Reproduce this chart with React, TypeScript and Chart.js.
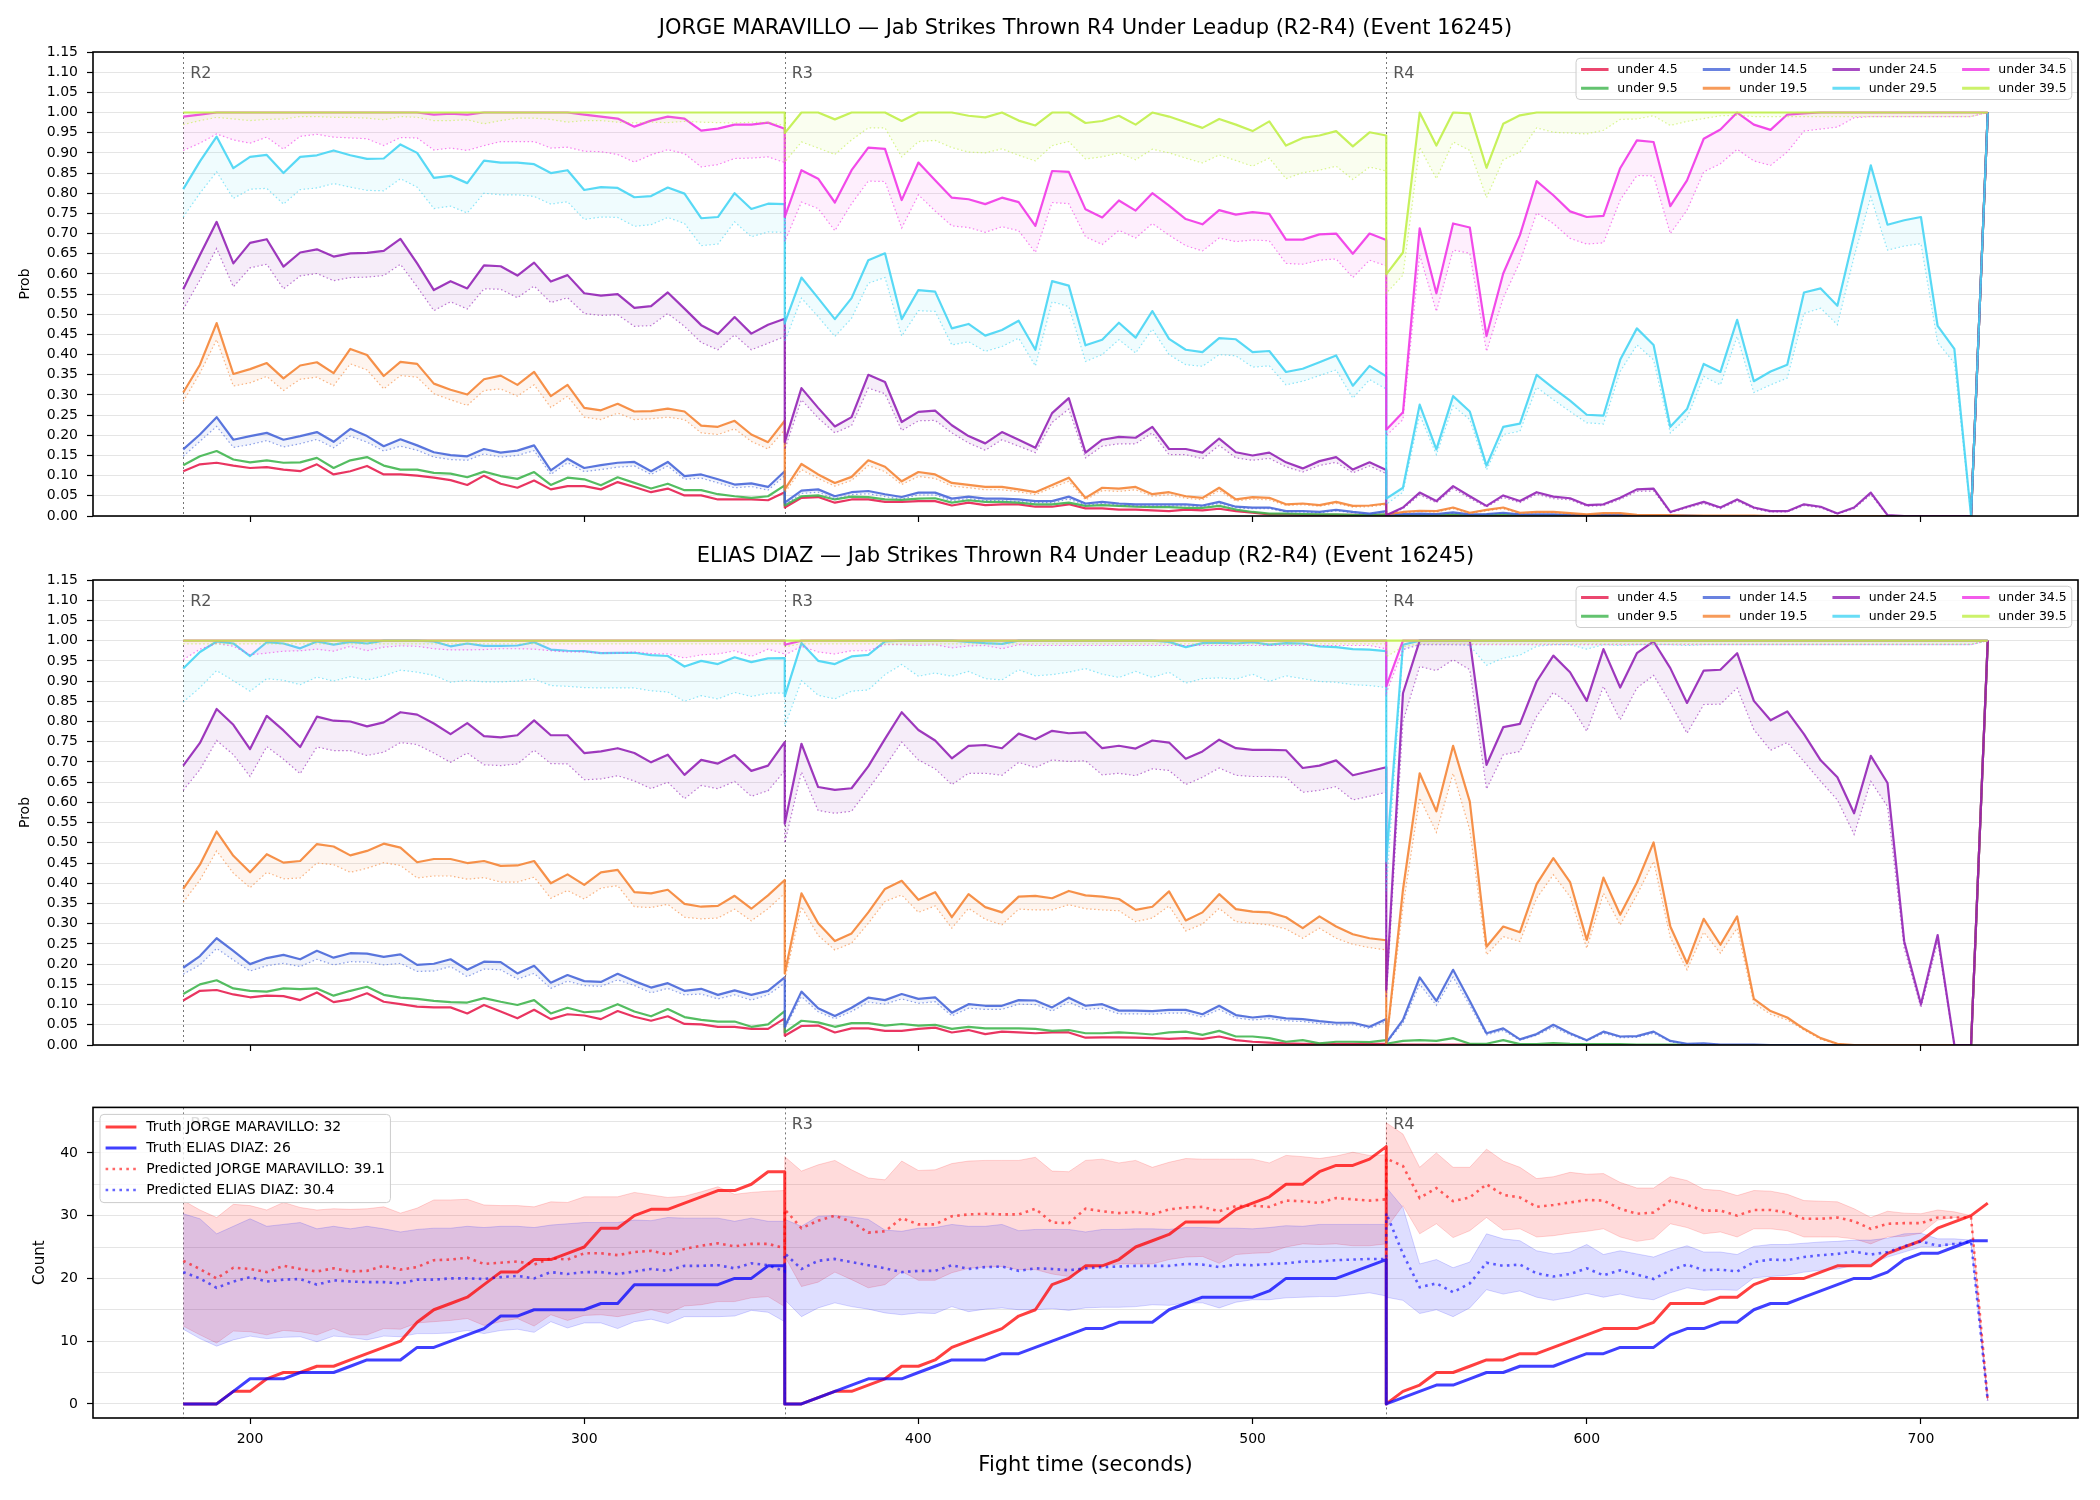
import React, { useEffect, useRef } from 'react';
import { Chart, registerables } from 'chart.js';

Chart.register(...registerables);

const FONT = '"DejaVu Sans", "Liberation Sans", sans-serif';

// ---------------- time axis ----------------
const ROUND_STARTS = [180, 360, 540];
const ROUND_NAMES = ['R2', 'R3', 'R4'];
const SAMPLE_STEP = 5; // seconds between samples
const SAMPLES_PER_ROUND = 37; // round start .. round end inclusive
const TIME_MIN = 153;
const TIME_MAX = 747;
const TIME_TICKS = [200, 300, 400, 500, 600, 700];

const PROB_TICKS = [0, 0.05, 0.1, 0.15, 0.2, 0.25, 0.3, 0.35, 0.4, 0.45, 0.5, 0.55, 0.6, 0.65, 0.7, 0.75, 0.8, 0.85, 0.9, 0.95, 1.0, 1.05, 1.1, 1.15];
const COUNT_TICKS = [0, 5, 10, 15, 20, 25, 30, 35, 40, 45];
const COUNT_TICK_LABELS = [0, 10, 20, 30, 40];

const TITLE_MARAVILLO = 'JORGE MARAVILLO — Jab Strikes Thrown R4 Under Leadup (R2-R4) (Event 16245)';
const TITLE_DIAZ = 'ELIAS DIAZ — Jab Strikes Thrown R4 Under Leadup (R2-R4) (Event 16245)';

const THRESHOLD_LABELS = ['under 4.5', 'under 9.5', 'under 14.5', 'under 19.5', 'under 24.5', 'under 29.5', 'under 34.5', 'under 39.5'];
const THRESHOLD_COLORS = ['#e6194b', '#3cb44b', '#4363d8', '#f58231', '#911eb4', '#42d4f4', '#f032e6', '#bfef45'];

// ---------------- JORGE MARAVILLO, probability (%) per sample: R2 | R3 | R4 ----------------
const mU4 = [
  11.1, 12.8, 13.2, 12.5, 11.9, 12.1, 11.5, 11.1, 12.8, 10.3, 11.1, 12.4, 10.3, 10.3, 10, 9.5, 8.9, 7.7, 10, 8, 7, 8.8, 6.6, 7.4, 7.4, 6.6, 8.4, 7.2, 5.9, 6.8, 5.1, 5.1, 4.1, 4.1, 4.1, 3.9, 5.9,
  2.1, 4.5, 4.7, 3.3, 4.1, 4.1, 3.5, 3.5, 3.7, 3.7, 2.6, 3.3, 2.7, 2.9, 2.9, 2.3, 2.3, 2.9, 1.9, 1.9, 1.6, 1.6, 1.4, 1.2, 1.6, 1.4, 1.8, 1.2, 0.8, 0.4, 0.4, 0.3, 0.3, 0.3, 0.3, 0.3, 0.3,
  0.1, 0.1, 0.1, 0.1, 0.2, 0.1, 0.1, 0.1, 0.1, 0.1, 0, 0, 0, 0, 0, 0, 0, 0, 0, 0, 0, 0, 0, 0, 0, 0, 0, 0, 0, 0, 0, 0, 0, 0, 0, 0, 100,
];
const mU9 = [
  12.6, 14.8, 16.1, 14, 13.3, 13.8, 13.2, 13.3, 14.4, 11.9, 13.8, 14.6, 12.5, 11.5, 11.5, 10.7, 10.5, 9.6, 11, 9.9, 9.2, 10.9, 7.7, 9.5, 9.1, 7.6, 9.6, 8.2, 6.8, 8, 6.4, 6.4, 5.4, 4.9, 4.5, 4.9, 7.6,
  2.6, 4.9, 5.1, 4.1, 4.8, 4.7, 4.1, 4, 4.3, 4.4, 3.3, 3.9, 3.5, 3.5, 3.3, 2.9, 2.9, 3.3, 2.5, 2.7, 2.5, 2.3, 2.2, 2.2, 2, 2, 2.5, 1.6, 1, 0.6, 0.6, 0.5, 0.4, 0.4, 0.3, 0.3, 0.4,
  0.1, 0.2, 0.3, 0.3, 0.4, 0.2, 0.3, 0.4, 0.2, 0.2, 0.2, 0.1, 0.1, 0.1, 0.1, 0, 0, 0, 0, 0, 0, 0, 0, 0, 0, 0, 0, 0, 0, 0, 0, 0, 0, 0, 0, 0, 100,
];
const mU14 = [
  16.5, 20.2, 24.5, 18.9, 19.8, 20.6, 18.9, 19.8, 20.8, 18.4, 21.6, 19.8, 17.3, 19, 17.5, 15.8, 15.1, 14.8, 16.6, 15.7, 16.2, 17.5, 11.3, 14.2, 11.9, 12.6, 13.2, 13.4, 11.1, 13.4, 9.9, 10.3, 9.1, 7.8, 8.1, 7.2, 11.1,
  3.3, 6.3, 6.6, 4.9, 5.9, 6.2, 5.4, 4.7, 5.8, 5.8, 4.3, 4.8, 4.3, 4.3, 4.1, 3.7, 3.7, 4.8, 3.1, 3.5, 3.1, 2.9, 2.9, 2.9, 2.9, 2.6, 3.5, 2.3, 2.1, 2.1, 1.2, 1.2, 1, 1.5, 1, 0.6, 1.2,
  0.3, 0.5, 0.6, 0.5, 0.9, 0.4, 0.5, 0.8, 0.4, 0.4, 0.4, 0.3, 0.2, 0.3, 0.3, 0.1, 0.1, 0.1, 0.1, 0, 0, 0, 0, 0, 0, 0, 0, 0, 0, 0, 0, 0, 0, 0, 0, 0, 100,
];
const mU14Lo = [
  14.8, 18.5, 22.2, 17, 17.7, 18.7, 17.1, 17.9, 19, 16.9, 19.8, 18.3, 16.1, 17.3, 16.3, 14.6, 14, 13.8, 15.4, 14.6, 15, 16.2, 10.3, 13.2, 11, 11.5, 12.1, 12.4, 10.3, 12.4, 9.1, 9.4, 8.2, 7, 7.3, 6.4, 10,
  2.8, 5.6, 5.9, 4.3, 5.3, 5.5, 4.8, 4.2, 5.2, 5.2, 3.8, 4.3, 3.8, 3.8, 3.6, 3.3, 3.3, 4.2, 2.7, 3.1, 2.7, 2.5, 2.5, 2.5, 2.5, 2.3, 3.1, 2, 1.8, 1.8, 1, 1, 0.8, 1.3, 0.8, 0.5, 1,
  0.2, 0.4, 0.5, 0.4, 0.7, 0.3, 0.4, 0.6, 0.3, 0.3, 0.3, 0.2, 0.1, 0.2, 0.2, 0.1, 0.1, 0.1, 0.1, 0, 0, 0, 0, 0, 0, 0, 0, 0, 0, 0, 0, 0, 0, 0, 0, 0, 100,
];
const mU19 = [
  30.6, 37.5, 47.8, 35.2, 36.4, 37.9, 34.1, 37.3, 38.1, 35.4, 41.4, 39.9, 34.7, 38.2, 37.7, 32.8, 31.3, 30.1, 33.9, 34.8, 32.5, 35.7, 29.7, 32.5, 26.8, 26.2, 27.8, 25.9, 26, 26.6, 25.9, 22.4, 22.1, 23.6, 20.2, 18.3, 23.6,
  6.6, 12.9, 10.3, 8.2, 9.7, 13.8, 12.2, 8.6, 10.9, 10.3, 8.2, 7.7, 7.2, 7.2, 6.6, 5.9, 7.7, 9.5, 4.5, 7, 6.8, 7.2, 5.4, 5.9, 4.9, 4.5, 7, 4.1, 4.7, 4.5, 2.9, 3.1, 2.7, 3.5, 2.5, 2.6, 3.1,
  0.4, 1, 1.3, 1.2, 2.1, 0.8, 1.5, 2.1, 0.8, 1, 1, 0.7, 0.4, 0.7, 0.7, 0.3, 0.2, 0.2, 0.1, 0.1, 0.1, 0.1, 0.1, 0, 0, 0, 0, 0, 0, 0, 0, 0, 0, 0, 0, 0, 100,
];
const mU19Lo = [
  28.4, 35.4, 43.7, 32.2, 33, 34.6, 31.1, 33.9, 34.4, 32.3, 37.7, 36.2, 31.5, 34.8, 34.4, 30.3, 28.8, 27.4, 31.1, 31.5, 29.7, 32.5, 26.9, 29.7, 24.5, 23.9, 25.5, 23.9, 24.1, 24.5, 23.9, 20.6, 20.2, 21.6, 18.5, 16.6, 21.4,
  5.8, 11.5, 9.3, 7.4, 8.8, 12.5, 11, 7.8, 9.8, 9.3, 7.4, 7, 6.5, 6.5, 6, 5.3, 7, 8.6, 4, 6.3, 6.1, 6.5, 4.9, 5.3, 4.4, 4, 6.3, 3.7, 4.2, 4, 2.6, 2.8, 2.4, 3.1, 2.2, 2.3, 2.8,
  0.3, 0.8, 1.1, 1, 1.8, 0.6, 1.3, 1.8, 0.6, 0.8, 0.8, 0.5, 0.3, 0.5, 0.5, 0.2, 0.1, 0.1, 0.1, 0.1, 0.1, 0.1, 0.1, 0, 0, 0, 0, 0, 0, 0, 0, 0, 0, 0, 0, 0, 100,
];
const mU24 = [
  56.2, 64.7, 72.9, 62.6, 67.7, 68.6, 61.8, 65.3, 66.1, 64.3, 65.1, 65.2, 65.7, 68.7, 62.6, 56, 58.2, 56.4, 62.1, 61.9, 59.6, 62.8, 58.1, 59.7, 55.2, 54.6, 55, 51.6, 52, 55.4, 51.4, 47.3, 45.1, 49.3, 45.2, 47.4, 48.9,
  18.3, 31.7, 26.8, 22.2, 24.5, 35, 33.2, 23.3, 25.8, 26.1, 22.5, 19.8, 18, 20.8, 18.9, 16.9, 25.5, 29.2, 15.7, 18.9, 19.6, 19.4, 22.1, 16.6, 16.6, 15.7, 19.2, 15.8, 15, 15.7, 13.3, 11.8, 13.6, 14.6, 11.5, 13.3, 11.4,
  0.2, 2.1, 5.8, 3.7, 7.4, 4.9, 2.5, 5.1, 3.7, 5.9, 4.8, 4.4, 2.7, 2.9, 4.5, 6.6, 6.8, 1, 2.3, 3.5, 2.1, 4.1, 2.1, 1.2, 1.2, 2.9, 2.3, 0.6, 2.1, 5.8, 0.2, 0, 0, 0, 0, 0, 100,
];
const mU24Lo = [
  51.2, 58.5, 66.3, 56.8, 61.5, 62.4, 56.3, 59.5, 60.1, 58.3, 59.1, 59.2, 59.6, 62.4, 56.8, 50.9, 53.1, 51.3, 56.3, 56.2, 54.1, 57, 52.9, 54.1, 50.2, 49.7, 49.9, 47, 47.2, 50.2, 47, 43, 41.2, 44.9, 41.2, 42.8, 44.5,
  16.5, 28.8, 24.3, 20.6, 22.4, 31.7, 30.3, 21.2, 23.6, 23.7, 20.6, 18.1, 16.3, 18.9, 17.3, 15.7, 23.2, 26.5, 14.4, 17.3, 17.9, 17.9, 20.6, 15.2, 15.2, 14.2, 17.5, 14.4, 13.8, 14.3, 12.2, 10.9, 12.5, 13.3, 10.7, 12.4, 10.5,
  0.1, 1.8, 5.2, 3.3, 6.8, 4.4, 2.2, 4.6, 3.3, 5.4, 4.3, 4, 2.4, 2.6, 4.1, 6.1, 6.2, 0.8, 2, 3.1, 1.8, 3.7, 1.8, 1, 1, 2.6, 2, 0.5, 1.8, 5.3, 0.1, 0, 0, 0, 0, 0, 100,
];
const mU29 = [
  81, 87.9, 94, 86.2, 89, 89.5, 85, 89, 89.4, 90.6, 89.4, 88.5, 88.6, 92.1, 90, 83.8, 84.3, 82.5, 88.1, 87.6, 87.6, 87.2, 85, 85.7, 80.8, 81.5, 81.3, 79, 79.3, 81.4, 79.9, 73.8, 74.1, 80, 76.1, 77.4, 77.3,
  47.8, 59.1, 54, 48.8, 54, 63.4, 65.1, 48.8, 56, 55.6, 46.5, 47.6, 44.7, 46.1, 48.4, 41.2, 58.2, 57.1, 42.3, 43.7, 47.9, 44.2, 50.8, 43.9, 41.2, 40.6, 44.1, 43.8, 40.6, 40.9, 35.7, 36.5, 38.1, 39.8, 32.3, 37.2, 34.6,
  4.3, 7, 27.6, 16.5, 29.7, 25.9, 12.5, 22.1, 22.9, 35, 31.7, 28.6, 25.1, 24.9, 38.7, 46.5, 42.4, 22.1, 26.5, 37.7, 35.7, 48.6, 33.4, 35.8, 37.5, 55.4, 56.4, 52.1, 69.6, 86.9, 72.2, 73.3, 74.1, 47.1, 41.4, 0, 100,
];
const mU29Lo = [
  74.1, 80, 85.3, 78.7, 81, 81.2, 77.3, 80.9, 81.3, 82.4, 81.5, 80.7, 80.6, 83.6, 81.5, 76.2, 76.8, 75.1, 80, 79.6, 79.6, 79.2, 77.3, 77.9, 73.5, 74.1, 74, 71.8, 72.2, 74, 72.5, 67, 67.4, 72.9, 69.2, 70.4, 70.3,
  43.2, 54, 49.4, 44.5, 49, 57.7, 59.1, 44.6, 50.9, 50.7, 42.4, 43.2, 40.8, 42, 44.1, 37.2, 53.1, 51.9, 38.3, 40, 43.7, 40.4, 46.3, 40, 37.5, 37.1, 40, 39.7, 36.9, 37.2, 32.5, 33.4, 34.8, 36.2, 29.2, 33.8, 31.5,
  2.9, 5.9, 25.1, 15.2, 27.3, 23.9, 11.4, 20.2, 21, 31.9, 28.8, 25.9, 23.1, 22.8, 35.8, 42.4, 38.7, 20.6, 24.3, 34.6, 32.5, 44.5, 30.6, 32.5, 34.2, 50.2, 51.5, 47.4, 64.3, 79.1, 65.9, 66.9, 67.5, 43, 37.9, 0, 100,
];
const mU34 = [
  99, 99.5, 100, 100, 100, 100, 100, 100, 100, 100, 100, 100, 100, 100, 100, 99.5, 99.7, 99.5, 100, 100, 100, 100, 100, 100, 99.5, 99, 98.5, 96.5, 98, 99, 98.5, 95.5, 96, 97, 97, 97.5, 96,
  74.1, 85.7, 83.6, 77.7, 85.7, 91.3, 91, 78.3, 87.6, 83.2, 78.9, 78.5, 77.3, 78.9, 77.8, 71.9, 85.5, 85.3, 76, 74, 78.2, 75.7, 80, 76.9, 73.6, 72.3, 75.8, 74.7, 75.3, 74.9, 68.5, 68.5, 69.8, 70, 65, 70, 68.4,
  21.4, 25.7, 71.3, 55.2, 72.5, 71.5, 44.6, 60.1, 69.6, 83, 79.5, 75.5, 74.1, 74.4, 86.2, 93.1, 92.7, 76.8, 83.2, 93.5, 95.8, 100, 97, 95.7, 99.5, 99.8, 100, 100, 100, 100, 100, 100, 100, 100, 100, 100, 100,
];
const mU34Lo = [
  90.6, 92.4, 94.7, 93.2, 92.4, 93.9, 90.9, 94.1, 94.6, 93.9, 93.7, 93.5, 91.8, 93.8, 93.7, 90.7, 91.2, 90.6, 91.8, 92.8, 92.8, 92.8, 91.2, 91.4, 90.4, 90.3, 89.6, 87.7, 89.5, 90.8, 89.8, 86.5, 87.1, 88.6, 88.7, 89, 87.6,
  68, 77.8, 76.2, 70.7, 77.4, 83, 82.9, 71.4, 79.6, 75.6, 71.9, 71.5, 70.3, 71.7, 70.7, 65.3, 77.7, 77.4, 69.2, 67.3, 70.8, 68.9, 72.5, 69.6, 67, 65.7, 68.9, 68, 68.4, 68.2, 62.6, 62.4, 63.4, 63.7, 59.1, 63.4, 62,
  19.9, 23.9, 64.7, 50.7, 65.9, 65.1, 40.8, 54, 63, 75.1, 72.5, 68.8, 67.4, 67.7, 78.3, 84.4, 84.3, 70, 75.8, 85.3, 87.3, 90.9, 88, 86.9, 90.2, 95.4, 95.9, 96.4, 98.7, 99, 99, 99, 99, 99, 99, 99, 100,
];
const mU39 = [
  100, 100, 100, 100, 100, 100, 100, 100, 100, 100, 100, 100, 100, 100, 100, 100, 100, 100, 100, 100, 100, 100, 100, 100, 100, 100, 100, 100, 100, 100, 100, 100, 100, 100, 100, 100, 100,
  94.9, 100, 100, 98.3, 100, 100, 100, 97.9, 100, 100, 100, 99.2, 98.8, 100, 98, 96.8, 100, 100, 97.4, 97.9, 99.2, 97, 100, 99, 97.6, 96.2, 98.4, 97, 95.4, 97.8, 91.8, 93.7, 94.3, 95.4, 91.6, 95.1, 94.3,
  59.9, 65.3, 100, 91.8, 100, 99.8, 86.3, 97.2, 99.3, 100, 100, 100, 100, 100, 100, 100, 100, 100, 100, 100, 100, 100, 100, 100, 100, 100, 100, 100, 100, 100, 100, 100, 100, 100, 100, 100, 100,
];
const mU39Lo = [
  97, 98, 98.8, 98.4, 98, 98.3, 98.4, 99, 99, 98.8, 98.8, 98.6, 98.2, 99, 98.8, 98, 98, 98.2, 97.2, 98, 98.6, 98.6, 98.3, 97.6, 98, 98, 97.6, 97.4, 97.6, 97.5, 97.8, 97.6, 97.5, 97.4, 97.6, 97.5, 96.8,
  87.7, 92.7, 91.2, 89.6, 93.2, 96.2, 96.2, 89, 92.8, 93.1, 91.3, 90.2, 90, 91, 89.4, 88, 91.8, 92.8, 88.5, 89, 90, 88.3, 90.9, 90, 88.7, 87.5, 89.5, 88.1, 86.7, 88.7, 83.6, 85.1, 85.7, 86.7, 83.4, 86.5, 85.5,
  55.2, 59.7, 91.4, 83.6, 92.7, 90.6, 78.9, 88.3, 90.2, 96.2, 95.1, 94.9, 94.7, 95.6, 98.3, 98.4, 99.2, 96.8, 97.8, 98.5, 99.2, 99.3, 99, 99, 99, 99, 99, 99, 99, 99, 99, 99, 99, 99, 99, 99, 100,
];

// ---------------- ELIAS DIAZ, probability (%) per sample: R2 | R3 | R4 ----------------
const dU4 = [
  11, 13.4, 13.6, 12.5, 11.8, 12.2, 12.1, 11.1, 13, 10.6, 11.3, 12.8, 10.7, 10.1, 9.5, 9.3, 9.3, 7.8, 9.9, 8.3, 6.6, 8.7, 6.4, 7.6, 7.3, 6.4, 8.4, 7, 6, 7.1, 5.2, 5.1, 4.5, 4.5, 4, 4, 6.6,
  2.3, 4.7, 4.8, 3.1, 4.1, 4.1, 3.5, 3.5, 4, 4.3, 3.1, 3.7, 2.7, 3.3, 3.1, 2.9, 3.1, 3.1, 1.8, 1.9, 1.9, 1.8, 1.7, 1.5, 1.7, 1.5, 2.1, 1.2, 0.8, 0.6, 0.4, 0.3, 0.3, 0.3, 0.3, 0.3, 0.3,
  0.1, 0.1, 0.1, 0.1, 0.1, 0.1, 0, 0, 0, 0, 0, 0, 0, 0, 0, 0, 0, 0, 0, 0, 0, 0, 0, 0, 0, 0, 0, 0, 0, 0, 0, 0, 0, 0, 0, 0, 100,
];
const dU9 = [
  12.6, 15, 16, 14, 13.4, 13.2, 14, 13.8, 14, 12.2, 13.4, 14.4, 12.4, 11.7, 11.4, 10.9, 10.6, 10.5, 11.6, 10.7, 9.9, 11.1, 7.8, 9.2, 8.1, 8.4, 10.1, 8.3, 7.1, 8.9, 6.9, 6.2, 5.8, 5.8, 4.5, 5.1, 8.4,
  3.1, 6, 5.6, 4.5, 5.4, 5.4, 4.8, 5.2, 4.8, 5, 4, 4.5, 4.1, 4.1, 4.1, 4, 3.5, 3.7, 2.9, 2.9, 3.1, 2.9, 2.6, 3.1, 3.3, 2.5, 3.5, 2.1, 2.1, 1.7, 0.8, 1.2, 0.4, 0.8, 0.8, 0.7, 1.2,
  0.3, 1, 1.2, 1, 1.7, 0.3, 0.3, 1.2, 0.2, 0.2, 0.5, 0.3, 0.2, 0.2, 0.2, 0.1, 0.1, 0.1, 0.1, 0, 0, 0, 0, 0, 0, 0, 0, 0, 0, 0, 0, 0, 0, 0, 0, 0, 100,
];
const dU14 = [
  19.1, 22, 26.4, 23.3, 20, 21.5, 22.3, 21.2, 23.3, 21.6, 22.7, 22.6, 21.8, 22.4, 19.8, 20.1, 21.2, 18.6, 20.6, 20.5, 17.7, 19.6, 15.4, 17.3, 15.8, 15.6, 17.6, 15.8, 14.2, 15.3, 13.4, 13.9, 12.4, 13.5, 12.4, 13.4, 16.7,
  4.5, 13.2, 9.1, 7.2, 9.2, 11.7, 11.1, 12.6, 11.4, 11.8, 8, 10.1, 9.7, 9.7, 11.1, 11, 9.3, 11.7, 9.7, 10.1, 8.5, 8.5, 8.4, 8.7, 8.7, 7.6, 9.7, 7.4, 6.8, 7.2, 6.6, 6.4, 5.9, 5.5, 5.5, 4.5, 6.4,
  0.6, 6.2, 16.7, 10.9, 18.6, 10.9, 2.9, 4.1, 1.4, 2.7, 5, 2.9, 1.2, 3.3, 2.1, 2.2, 3.3, 1, 0.3, 0.4, 0.1, 0.1, 0.1, 0, 0, 0, 0, 0, 0, 0, 0, 0, 0, 0, 0, 0, 100,
];
const dU14Lo = [
  17.5, 19.8, 23.9, 21, 18.3, 19.6, 20.2, 19.4, 21.2, 19.8, 20.6, 20.5, 19.8, 20.2, 18.2, 18.3, 19.4, 16.9, 18.8, 18.6, 16.3, 17.7, 14, 15.8, 14.7, 14.5, 16.1, 14.7, 12.9, 14, 12.4, 12.6, 11.4, 12.4, 11.1, 12.4, 15.3,
  4, 12, 8.2, 6.5, 8.3, 10.6, 10.1, 11.4, 10.3, 10.7, 7.2, 9.1, 8.8, 8.8, 10.1, 10, 8.4, 10.6, 8.8, 9.1, 7.7, 7.7, 7.6, 7.9, 7.9, 6.9, 8.8, 6.7, 6.2, 6.5, 6, 5.8, 5.3, 5, 5, 4.1, 5.8,
  0.5, 5.4, 15, 9.8, 16.8, 9.8, 2.5, 3.6, 1.2, 2.4, 4.4, 2.5, 1, 2.9, 1.8, 1.9, 2.9, 0.8, 0.2, 0.3, 0.1, 0.1, 0.1, 0, 0, 0, 0, 0, 0, 0, 0, 0, 0, 0, 0, 0, 100,
];
const dU19 = [
  38.6, 44.6, 52.8, 46.8, 42.7, 47.2, 45.1, 45.5, 49.7, 49.1, 46.9, 48, 49.8, 48.8, 45.2, 46, 46, 45, 45.5, 44.3, 44.4, 45.5, 40, 42.2, 39.6, 42.7, 43.3, 37.8, 37.5, 38.4, 34.9, 34.2, 34.4, 36.9, 33.7, 37, 40.8,
  17.7, 37.5, 30.1, 25.7, 27.6, 32.8, 38.6, 40.6, 35.9, 37.8, 31.6, 37.3, 34.1, 32.8, 36.7, 36.9, 36.3, 38.1, 37, 36.7, 36.1, 33.4, 34.2, 38, 30.8, 32.8, 37.3, 33.6, 33, 32.8, 31.6, 28.9, 31.8, 29.3, 27.4, 26.4, 25.9,
  0.3, 38.4, 67.2, 57.8, 74, 60.2, 24.3, 29.3, 27.9, 39.8, 46.2, 40.3, 26, 41.4, 32.2, 40.2, 50.1, 29.3, 20.2, 31.2, 24.8, 31.8, 11.4, 8.4, 6.8, 4, 1.7, 0.3, 0, 0, 0, 0, 0, 0, 0, 0, 100,
];
const dU19Lo = [
  35.3, 40.8, 48, 42.5, 38.9, 42.7, 41.1, 41.3, 45, 44.6, 42.7, 43.7, 45.1, 44.4, 41.3, 41.8, 41.8, 41, 41.4, 40.3, 40.3, 41.5, 36.3, 38.2, 36.1, 38.8, 39.4, 34.2, 34, 34.8, 31.6, 31.2, 31.4, 33.6, 30.7, 33.7, 37.5,
  16.1, 34.2, 27.1, 23.5, 25.2, 30.1, 35.5, 37.1, 32.8, 34.4, 28.9, 33.8, 31.1, 29.7, 33.6, 33.4, 33.4, 34.7, 33.7, 33.4, 33.2, 30.5, 31.4, 34.4, 28.2, 29.9, 33.8, 30.5, 30.1, 29.7, 28.7, 26.4, 28.9, 26.4, 24.9, 24.1, 23.5,
  0.2, 34.2, 61.1, 52.6, 67.2, 53.2, 22.3, 26.8, 25.6, 36.3, 42.1, 36.7, 23.9, 37.5, 29.7, 37.1, 45.4, 26.6, 18.6, 27.9, 22.7, 28.9, 10.3, 7.6, 6.2, 3.7, 1.4, 0.2, 0, 0, 0, 0, 0, 0, 0, 0, 100,
];
const dU24 = [
  69.1, 74.7, 83.1, 79.2, 73.2, 81.4, 77.8, 73.7, 81.2, 80.2, 80, 78.8, 79.8, 82.3, 81.7, 79.5, 76.9, 79.6, 76.4, 76.1, 76.6, 80.3, 76.6, 76.6, 72.2, 72.6, 73.4, 72.2, 69.9, 71.8, 66.8, 70.5, 69.6, 71.7, 67.8, 69.1, 74.9,
  54.7, 74.5, 63.8, 63.1, 63.5, 68.9, 75.7, 82.3, 77.9, 75.3, 70.9, 74, 74.2, 73.4, 77, 75.6, 77.7, 77.1, 77.3, 73.4, 74, 73.3, 75.3, 74.8, 70.8, 72.6, 75.5, 73.4, 73, 73, 72.9, 68.5, 69.1, 70.4, 66.7, 67.7, 68.7,
  13.6, 87, 100, 100, 100, 100, 69.3, 78.6, 79.4, 89.9, 96.3, 92.2, 85.1, 97.9, 88.4, 96.9, 99.8, 93.2, 84.6, 92.6, 92.8, 96.9, 85.1, 80.3, 82.5, 76.9, 70.4, 66.2, 57.3, 71.5, 64.8, 25.6, 10.1, 27.2, 0, 0, 100,
];
const dU24Lo = [
  63, 68.1, 75.3, 71.8, 66.4, 73.8, 70.7, 67.1, 73.7, 72.8, 72.8, 71.6, 72.4, 74.8, 74.3, 72.2, 69.9, 72.2, 69.3, 69.1, 69.5, 72.9, 69.6, 69.5, 65.6, 65.8, 66.6, 65.3, 63.4, 65, 60.9, 64.2, 63.4, 65.2, 61.5, 62.9, 67.8,
  49.9, 67.5, 58, 57.3, 57.8, 63.3, 68.9, 74.9, 70.5, 68.3, 64.4, 67.2, 67.2, 66.7, 69.9, 68.6, 70.5, 70.1, 70.3, 66.8, 67.2, 66.6, 68.3, 67.9, 64.4, 66.2, 68.5, 66.7, 66.4, 66.4, 66.2, 62.5, 63, 63.9, 60.6, 61.5, 62.5,
  11.6, 80, 93.6, 92.6, 95.3, 92.8, 63.3, 71.8, 72.6, 81.3, 87.2, 84.2, 77.6, 88.7, 80.4, 88.3, 91.4, 84.6, 77.1, 84.2, 84.3, 88.3, 78, 72.9, 74.8, 70.1, 65.2, 60.6, 52.1, 65.2, 59, 23.9, 9.2, 25.6, 0, 0, 100,
];
const dU29 = [
  93.1, 97.2, 99.8, 99.3, 96.2, 99.6, 99.3, 98.1, 99.8, 99, 99.7, 99.3, 100, 100, 100, 99.8, 98.6, 99.3, 98.7, 98.7, 98.8, 99.6, 97.8, 97.5, 97.4, 96.9, 97, 97, 96.4, 96.2, 93.6, 95, 94.2, 95.9, 94.7, 95.6, 95.7,
  86.2, 99.4, 95, 94.2, 96.1, 96.5, 99.8, 100, 100, 100, 100, 99.7, 99.4, 99.2, 100, 100, 100, 100, 100, 100, 100, 100, 100, 99.7, 98.4, 99.4, 99.5, 99.3, 99.6, 99, 99.4, 99.3, 98.6, 98.4, 97.9, 97.8, 97.4,
  45.4, 99, 100, 100, 100, 100, 100, 100, 100, 100, 100, 100, 100, 100, 100, 100, 100, 100, 100, 100, 100, 100, 100, 100, 100, 100, 100, 100, 100, 100, 100, 100, 100, 100, 100, 100, 100,
];
const dU29Lo = [
  84.8, 88.4, 92.6, 90.1, 87.5, 90.6, 90.2, 89.1, 91, 90, 91.1, 90.3, 91.3, 92.7, 92.2, 91.4, 89.7, 90.2, 89.8, 89.8, 90, 90.5, 88.9, 88.7, 88.4, 88.3, 88.3, 88.3, 87.6, 87.3, 85, 86.4, 85.6, 87.2, 86.2, 87, 87,
  78.8, 90.1, 86.5, 85.6, 87.5, 87.8, 91.6, 94.1, 91.2, 92, 91.2, 92.4, 90.6, 90.3, 92.8, 91.3, 91.6, 92.2, 93.1, 91.7, 90.9, 92.4, 90.9, 92.2, 89.5, 90.6, 90.8, 90.5, 91.7, 89.9, 91.3, 90.6, 89.9, 89.7, 89.1, 88.9, 88.4,
  38, 97.8, 99, 99, 99, 98.8, 93.9, 95.7, 96.4, 98.6, 99, 99, 97.9, 99, 98.8, 99, 99, 99, 98.8, 99, 99, 99, 99, 99, 99, 99, 99, 99, 99, 99, 99, 99, 99, 99, 99, 99, 100,
];
const dU34 = [
  100, 100, 100, 100, 100, 100, 100, 100, 100, 100, 100, 100, 100, 100, 100, 100, 100, 100, 100, 100, 100, 100, 100, 100, 100, 100, 100, 100, 100, 100, 100, 100, 100, 100, 100, 100, 100,
  99, 100, 100, 100, 100, 100, 100, 100, 100, 100, 100, 100, 100, 100, 100, 100, 100, 100, 100, 100, 100, 100, 100, 100, 100, 100, 100, 100, 100, 100, 100, 100, 100, 100, 100, 100, 100,
  88.7, 100, 100, 100, 100, 100, 100, 100, 100, 100, 100, 100, 100, 100, 100, 100, 100, 100, 100, 100, 100, 100, 100, 100, 100, 100, 100, 100, 100, 100, 100, 100, 100, 100, 100, 100, 100,
];
const dU34Lo = [
  95.3, 97.9, 99.3, 98.6, 96.5, 96.9, 97.4, 97.5, 97.9, 97.4, 98.6, 97.5, 98.4, 98.7, 98.6, 98, 97.7, 97.7, 97.8, 98, 98, 97.9, 97.5, 97.2, 97.2, 96.9, 96.9, 97.2, 96.8, 96.7, 95.7, 96.5, 96.7, 97.5, 96.1, 97.9, 96.7,
  96.4, 98.6, 97.2, 96.7, 97.5, 97.5, 99, 99, 98.8, 99, 98.2, 98.7, 98.8, 98, 99, 98.8, 98.8, 98.8, 98.8, 98.8, 98.8, 98.8, 98.8, 98.8, 98.8, 98.8, 98.8, 98.8, 98.8, 98.8, 98.8, 98.8, 98.8, 98.8, 98.8, 98.8, 98,
  87, 97.8, 99, 99, 99, 99, 99, 99, 99, 99, 99, 99, 99, 99, 99, 99, 99, 99, 99, 99, 99, 99, 99, 99, 99, 99, 99, 99, 99, 99, 99, 99, 99, 99, 99, 99, 100,
];
const dU39 = [
  100, 100, 100, 100, 100, 100, 100, 100, 100, 100, 100, 100, 100, 100, 100, 100, 100, 100, 100, 100, 100, 100, 100, 100, 100, 100, 100, 100, 100, 100, 100, 100, 100, 100, 100, 100, 100,
  100, 100, 100, 100, 100, 100, 100, 100, 100, 100, 100, 100, 100, 100, 100, 100, 100, 100, 100, 100, 100, 100, 100, 100, 100, 100, 100, 100, 100, 100, 100, 100, 100, 100, 100, 100, 100,
  100, 100, 100, 100, 100, 100, 100, 100, 100, 100, 100, 100, 100, 100, 100, 100, 100, 100, 100, 100, 100, 100, 100, 100, 100, 100, 100, 100, 100, 100, 100, 100, 100, 100, 100, 100, 100,
];
const dU39Lo = [
  99.2, 99.2, 99.2, 99.2, 99.2, 99.2, 99.2, 99.2, 99.2, 99.2, 99.2, 99.2, 99.2, 99.2, 99.2, 99.2, 99.2, 99.2, 99.2, 99.2, 99.2, 99.2, 99.2, 99.2, 99.2, 99.2, 99.2, 99.2, 99.2, 99.2, 99.2, 99.2, 99.2, 99.2, 99.2, 99.2, 99.2,
  98.5, 99.2, 99.2, 99.2, 99.2, 99.2, 99.2, 99.2, 99.2, 99.2, 99.2, 99.2, 99.2, 99.2, 99.2, 99.2, 99.2, 99.2, 99.2, 99.2, 99.2, 99.2, 99.2, 99.2, 99.2, 99.2, 99.2, 99.2, 99.2, 99.2, 99.2, 99.2, 99.2, 99.2, 99.2, 99.2, 99.2,
  96, 98.5, 99.2, 99.2, 99.2, 99.2, 99.2, 99.2, 99.2, 99.2, 99.2, 99.2, 99.2, 99.2, 99.2, 99.2, 99.2, 99.2, 99.2, 99.2, 99.2, 99.2, 99.2, 99.2, 99.2, 99.2, 99.2, 99.2, 99.2, 99.2, 99.2, 99.2, 99.2, 99.2, 99.2, 99.2, 100,
];

// ---------------- cumulative jab counts: R2 | R3 | R4 ----------------
const truthMaravillo = [
  0, 0, 0, 2, 2, 4, 5, 5, 6, 6, 7, 8, 9, 10, 13, 15, 16, 17, 19, 21, 21, 23, 23, 24, 25, 28, 28, 30, 31, 31, 32, 33, 34, 34, 35, 37, 37,
  0, 0, 1, 2, 2, 3, 4, 6, 6, 7, 9, 10, 11, 12, 14, 15, 19, 20, 22, 22, 23, 25, 26, 27, 29, 29, 29, 31, 32, 33, 35, 35, 37, 38, 38, 39, 41,
  0, 2, 3, 5, 5, 6, 7, 7, 8, 8, 9, 10, 11, 12, 12, 12, 13, 16, 16, 16, 17, 17, 19, 20, 20, 20, 21, 22, 22, 22, 24, 25, 26, 28, 29, 30, 32,
];
const truthDiaz = [
  0, 0, 0, 2, 4, 4, 4, 5, 5, 5, 6, 7, 7, 7, 9, 9, 10, 11, 12, 14, 14, 15, 15, 15, 15, 16, 16, 19, 19, 19, 19, 19, 19, 20, 20, 22, 22,
  0, 0, 1, 2, 3, 4, 4, 4, 5, 6, 7, 7, 7, 8, 8, 9, 10, 11, 12, 12, 13, 13, 13, 15, 16, 17, 17, 17, 17, 18, 20, 20, 20, 20, 21, 22, 23,
  0, 1, 2, 3, 3, 4, 5, 5, 6, 6, 6, 7, 8, 8, 9, 9, 9, 11, 12, 12, 13, 13, 15, 16, 16, 17, 18, 19, 20, 20, 21, 23, 24, 24, 25, 26, 26,
];
const predMaravillo = [
  22.8, 21.5, 20, 21.7, 21.5, 21, 22, 21.5, 21.1, 21.6, 21.1, 21.2, 22, 21.4, 21.8, 22.9, 23, 23.3, 22.3, 22.5, 22.7, 22.2, 23.2, 23, 24, 24, 23.7, 24.2, 24.4, 23.8, 24.7, 25.2, 25.6, 25.1, 25.5, 25.5, 24.8,
  31, 28, 29.2, 30, 29, 27.3, 27.5, 29.6, 28.6, 28.6, 29.9, 30.2, 30.3, 30.2, 30.2, 31.1, 28.9, 28.8, 31.1, 30.7, 30.4, 30.6, 30.2, 31, 31.3, 31.4, 30.7, 31.5, 31.6, 31.4, 32.4, 32.3, 32, 32.8, 32.6, 32.4, 32.6,
  39.1, 37.9, 32.8, 34.4, 32.3, 32.9, 35, 33.3, 32.9, 31.4, 31.7, 32.1, 32.5, 32.4, 31.1, 30.3, 30.5, 32.4, 31.7, 30.8, 30.8, 30, 30.9, 30.9, 30.5, 29.5, 29.5, 29.7, 29.1, 27.9, 28.7, 28.8, 28.8, 29.7, 29.7, 29.7, 0.5,
];
const predDiaz = [
  21, 20, 18.5, 19.5, 20.2, 19.5, 19.8, 19.9, 19, 19.7, 19.5, 19.4, 19.4, 19.2, 19.8, 19.8, 20, 20, 19.9, 20.2, 20.4, 20, 21, 20.7, 21, 21, 20.7, 21.1, 21.5, 21.2, 22, 22, 22.1, 21.6, 22.4, 22.1, 21.1,
  24, 21.5, 22.8, 23.1, 22.6, 22.1, 21.6, 21, 21.2, 21.2, 22.1, 21.5, 21.8, 21.9, 21.2, 21.6, 21.5, 21.3, 21.6, 21.8, 21.9, 22, 22, 22, 22.3, 22.2, 21.8, 22.2, 22.1, 22.3, 22.4, 22.7, 22.7, 22.9, 23, 23.1, 23.1,
  30.4, 23.9, 18.6, 19.2, 17.8, 19.2, 22.5, 22, 22.2, 20.8, 20.3, 20.7, 21.6, 20.5, 21.3, 20.6, 19.9, 21.3, 22.2, 21.3, 21.4, 21.1, 22.6, 23, 22.9, 23.4, 23.7, 23.9, 24.3, 23.8, 24.2, 25.1, 25.9, 25.2, 25.5, 25.9, 0.5,
];
const bandMaravilloHi = [
  32.4, 30.9, 29.7, 31.8, 31.6, 30.9, 32.1, 31.3, 30.9, 31.1, 31, 31.1, 31.4, 30.4, 31.2, 32.5, 32.5, 32.6, 31.7, 31.6, 31.6, 31.4, 32.2, 32.1, 33, 33, 33, 33.7, 33.3, 32.9, 33.1, 33.8, 34.6, 33.4, 33.7, 33.9, 34,
  39.4, 37.1, 38.1, 38.8, 37.3, 36, 35.7, 38.7, 37.2, 37.3, 38.3, 38.7, 38.8, 38.8, 38.8, 39.3, 37.1, 37, 38.8, 39, 38.4, 38.8, 37.7, 38.5, 39.1, 39, 39, 39, 39, 38.4, 39.6, 39.4, 39.1, 39.5, 40.1, 39.6, 39.7,
  44.8, 43, 37.7, 40, 37.7, 37.7, 40.6, 38.7, 37.7, 35.9, 36.2, 36.9, 36.6, 36.7, 35.3, 34.4, 34.4, 36.2, 35.6, 34.2, 34, 33.2, 34, 33.9, 33.4, 32.4, 32.3, 32.2, 31.1, 29.7, 30.7, 30.4, 30.3, 30.9, 30.6, 30, 0.5,
];
const bandMaravilloLo = [
  12.4, 11, 9.7, 11.6, 11.5, 11, 11.7, 11.5, 11, 12, 11, 11, 12, 11.9, 12.9, 13.1, 13.3, 13.6, 12.5, 13.1, 13.6, 12.4, 14.2, 13.3, 14.1, 14.2, 13.9, 14.4, 15, 14.4, 15.6, 15.8, 16.3, 16.3, 16.9, 17.1, 15.5,
  23.5, 18.7, 19.4, 21, 19.8, 18.5, 19, 21.1, 19.7, 19.7, 20.9, 21.6, 21.8, 21.9, 21.4, 21.4, 20.7, 20.3, 21.5, 22, 22.3, 22.3, 22.3, 23, 23.4, 23.5, 22.4, 23.8, 24, 24.1, 25, 25.5, 25.4, 25.5, 25.2, 25.2, 25.5,
  28, 31.6, 27.1, 28.7, 26.5, 27.6, 29.7, 27.7, 27.9, 26.6, 26.8, 27.2, 27.5, 27.9, 26.6, 25.9, 26.3, 28.7, 28.1, 27.1, 27.4, 26.6, 27.9, 27.9, 27.6, 26.6, 26.6, 26.6, 26.3, 25.5, 26.6, 26.7, 27.2, 29.3, 29.7, 29.7, 0.5,
];
const bandDiazHi = [
  30.3, 29.5, 27.1, 28.3, 29.5, 28.3, 28.6, 28.9, 27.9, 28.3, 27.9, 28.3, 27.9, 27.4, 27.8, 28, 28, 28.3, 28.1, 28.3, 28.3, 28.1, 28.5, 28.7, 28.9, 28.9, 28.9, 29.3, 29.2, 29.7, 29.6, 29.6, 29.6, 29.1, 29.6, 29.1, 29.1,
  29.4, 28.3, 29.9, 30, 29.8, 29.4, 27.7, 27.5, 28, 28.1, 28.6, 28.3, 28.3, 28.6, 27.6, 27.8, 27.8, 27.8, 27.4, 27.8, 27.8, 27.9, 27.9, 27.8, 28.1, 28.1, 28, 28, 27.9, 28.1, 28.4, 28.3, 28.6, 28.6, 28.6, 28.6, 28.6,
  34.5, 31.3, 22.3, 23, 21.7, 22.6, 27.1, 26.3, 26, 24.4, 23.9, 24.2, 25.4, 23.8, 24.4, 23.9, 23.4, 24.4, 25.2, 24.2, 24.2, 23.8, 25.1, 25.4, 25.4, 25.6, 25.8, 25.9, 26.1, 26.1, 26.4, 27.1, 27.2, 26.3, 26.3, 26.1, 0.5,
];
const bandDiazLo = [
  11.9, 10.4, 9.2, 10.2, 10.8, 10.4, 10.6, 10.7, 9.9, 10.8, 10.6, 10.2, 10.8, 10.7, 11.2, 11.2, 11.3, 11.7, 11.2, 11.7, 11.9, 11.4, 13.1, 12.1, 12.9, 12.9, 12, 13.1, 13.5, 12.8, 13.9, 13.9, 13.9, 14, 14.9, 14.6, 13.1,
  16.6, 13.9, 15.3, 16.1, 15.5, 15.1, 14.5, 14.2, 14.5, 14.4, 15.5, 14.7, 15.1, 15.3, 15, 15, 15.2, 14.9, 15.3, 15.4, 15.4, 15.5, 15.8, 15.7, 16.1, 16.1, 15.3, 16.2, 16.6, 16.6, 16.9, 17, 17.1, 17.1, 17.4, 17.7, 17.2,
  17, 16.5, 14.4, 15, 13.9, 15.3, 18.2, 17.5, 18, 17, 16.5, 17, 17.6, 17, 17.5, 16.9, 16.6, 17.7, 18.5, 18.1, 18.2, 18.1, 20.1, 20.3, 20.5, 21, 21.3, 21.5, 22.1, 22.3, 23.4, 24.2, 25, 25, 25.5, 25.6, 0.5,
];

const MARAVILLO_LINES = [mU4, mU9, mU14, mU19, mU24, mU29, mU34, mU39];
const MARAVILLO_LOWS = [null, null, mU14Lo, mU19Lo, mU24Lo, mU29Lo, mU34Lo, mU39Lo];
const DIAZ_LINES = [dU4, dU9, dU14, dU19, dU24, dU29, dU34, dU39];
const DIAZ_LOWS = [null, null, dU14Lo, dU19Lo, dU24Lo, dU29Lo, dU34Lo, dU39Lo];

// sample timestamps: every round repeats its boundary second so the reset shows as a vertical drop
const SAMPLE_TIMES: number[] = ROUND_STARTS.flatMap((start) =>
  Array.from({ length: SAMPLES_PER_ROUND }, (_, i) => start + i * SAMPLE_STEP)
);

const R4_START_INDEX = 2 * SAMPLES_PER_ROUND;

function toPoints(values: number[], scale = 1) {
  const n = Math.min(values.length, SAMPLE_TIMES.length);
  const pts: { x: number; y: number }[] = [];
  for (let i = 0; i < n; i++) pts.push({ x: SAMPLE_TIMES[i], y: values[i] * scale });
  return pts;
}

function rgba(hex: string, a: number) {
  const n = parseInt(hex.slice(1), 16);
  return `rgba(${(n >> 16) & 255},${(n >> 8) & 255},${n & 255},${a})`;
}

type LegendItem = { label: string; color: string; width: number; dash?: number[] };
type DecorConfig = {
  title?: string;
  legend: LegendItem[];
  legendCols: number;
  legendFont: number;
  legendCorner: 'tr' | 'tl';
};

function roundedRect(ctx: CanvasRenderingContext2D, x: number, y: number, w: number, h: number, r: number) {
  ctx.beginPath();
  ctx.moveTo(x + r, y);
  ctx.lineTo(x + w - r, y);
  ctx.arcTo(x + w, y, x + w, y + r, r);
  ctx.lineTo(x + w, y + h - r);
  ctx.arcTo(x + w, y + h, x + w - r, y + h, r);
  ctx.lineTo(x + r, y + h);
  ctx.arcTo(x, y + h, x, y + h - r, r);
  ctx.lineTo(x, y + r);
  ctx.arcTo(x, y, x + r, y, r);
  ctx.closePath();
}

function drawLegend(ctx: CanvasRenderingContext2D, area: any, cfg: DecorConfig) {
  const fs = cfg.legendFont;
  const items = cfg.legend;
  const ncol = cfg.legendCols;
  const nrows = Math.ceil(items.length / ncol);
  const pad = 0.4 * fs;
  const handleLen = 2.2 * fs;
  const handlePad = 0.7 * fs;
  const colGap = 2 * fs;
  const rowGap = 0.5 * fs;
  const rowH = 1.0 * fs;
  const inset = 0.5 * fs;
  ctx.save();
  ctx.font = `${fs}px ${FONT}`;
  const colW: number[] = [];
  for (let c = 0; c < ncol; c++) {
    let w = 0;
    for (let r = 0; r < nrows; r++) {
      const it = items[c * nrows + r];
      if (it) w = Math.max(w, ctx.measureText(it.label).width);
    }
    colW.push(handleLen + handlePad + w);
  }
  const boxW = 2 * pad + colW.reduce((s, w) => s + w, 0) + colGap * (ncol - 1);
  const boxH = 2 * pad + nrows * rowH + (nrows - 1) * rowGap;
  const x0 = cfg.legendCorner === 'tr' ? area.right - inset - boxW : area.left + inset;
  const y0 = area.top + inset;
  roundedRect(ctx, x0, y0, boxW, boxH, 4);
  ctx.fillStyle = 'rgba(255,255,255,0.8)';
  ctx.fill();
  ctx.strokeStyle = '#cccccc';
  ctx.lineWidth = 1;
  ctx.stroke();
  let cx = x0 + pad;
  for (let c = 0; c < ncol; c++) {
    for (let r = 0; r < nrows; r++) {
      const it = items[c * nrows + r];
      if (!it) continue;
      const cy = y0 + pad + r * (rowH + rowGap) + rowH / 2;
      ctx.strokeStyle = it.color;
      ctx.lineWidth = it.width;
      ctx.setLineDash(it.dash || []);
      ctx.beginPath();
      ctx.moveTo(cx, cy);
      ctx.lineTo(cx + handleLen, cy);
      ctx.stroke();
      ctx.setLineDash([]);
      ctx.fillStyle = '#000';
      ctx.textAlign = 'left';
      ctx.textBaseline = 'middle';
      ctx.fillText(it.label, cx + handleLen + handlePad, cy + 0.5);
    }
    cx += colW[c] + colGap;
  }
  ctx.restore();
}

function decorPlugin(cfg: DecorConfig) {
  return {
    id: 'decor',
    beforeDatasetsDraw(chart: any) {
      const { ctx, chartArea: a } = chart;
      const xs = chart.scales.x;
      ctx.save();
      ctx.strokeStyle = 'rgba(60,60,60,0.7)';
      ctx.lineWidth = 1;
      ctx.setLineDash([2, 3]);
      ROUND_STARTS.forEach((t) => {
        const x = Math.round(xs.getPixelForValue(t)) + 0.5;
        ctx.beginPath();
        ctx.moveTo(x, a.top);
        ctx.lineTo(x, a.bottom);
        ctx.stroke();
      });
      ctx.restore();
    },
    afterDatasetsDraw(chart: any) {
      const { ctx, chartArea: a } = chart;
      const xs = chart.scales.x;
      ctx.save();
      ctx.fillStyle = '#555';
      ctx.font = `16px ${FONT}`;
      ctx.textAlign = 'left';
      ctx.textBaseline = 'top';
      const labelY = a.top + 0.03 * (a.bottom - a.top);
      ROUND_STARTS.forEach((t, i) => ctx.fillText(ROUND_NAMES[i], xs.getPixelForValue(t) + 7, labelY));
      ctx.strokeStyle = '#000';
      ctx.lineWidth = 1.6;
      ctx.setLineDash([]);
      ctx.strokeRect(a.left, a.top, a.right - a.left, a.bottom - a.top);
      ctx.restore();
      drawLegend(ctx, a, cfg);
      if (cfg.title) {
        ctx.save();
        ctx.fillStyle = '#000';
        ctx.font = `21px ${FONT}`;
        ctx.textAlign = 'center';
        ctx.textBaseline = 'middle';
        ctx.fillText(cfg.title, (a.left + a.right) / 2, a.top - 23);
        ctx.restore();
      }
    },
  };
}

function xScale(showLabels: boolean, axisHeight: number) {
  return {
    type: 'linear',
    min: TIME_MIN,
    max: TIME_MAX,
    afterBuildTicks: (scale: any) => {
      scale.ticks = TIME_TICKS.map((v) => ({ value: v }));
    },
    afterFit: (scale: any) => {
      scale.height = axisHeight;
    },
    grid: { drawOnChartArea: false, drawTicks: true, tickLength: 6, tickColor: '#000', tickWidth: 1.2 },
    border: { display: false },
    ticks: { display: showLabels, autoSkip: false, maxRotation: 0, padding: 7, color: '#000', font: { family: FONT, size: 14 } },
    title: showLabels
      ? { display: true, text: 'Fight time (seconds)', color: '#000', font: { family: FONT, size: 21 }, padding: { top: 0, bottom: 22 } }
      : { display: false },
  };
}

const AXIS_WIDTH = 93;

function buildProbChart(canvas: HTMLCanvasElement, title: string, lines: number[][], lows: (number[] | null)[], pad: { top: number; bottom: number }) {
  const datasets: any[] = [];
  lines.forEach((line, k) => {
    const color = THRESHOLD_COLORS[k];
    const low = lows[k];
    let lowIndex = -1;
    if (low) {
      lowIndex = datasets.length;
      datasets.push({
        label: `${THRESHOLD_LABELS[k]} lower`,
        data: toPoints(low, 0.01),
        borderColor: rgba(color, 0.6),
        borderWidth: 1.2,
        borderDash: [1.5, 2.5],
        pointRadius: 0,
        tension: 0,
        fill: false,
        order: 100 - 2 * k,
      });
    }
    datasets.push({
      label: THRESHOLD_LABELS[k],
      data: toPoints(line, 0.01),
      borderColor: rgba(color, 0.88),
      borderWidth: 2.2,
      borderJoinStyle: 'round',
      pointRadius: 0,
      tension: 0,
      fill: lowIndex >= 0 ? { target: lowIndex } : false,
      backgroundColor: rgba(color, 0.08),
      order: 99 - 2 * k,
    });
  });

  const legend: LegendItem[] = THRESHOLD_LABELS.map((label, k) => ({ label, color: rgba(THRESHOLD_COLORS[k], 0.8), width: 3 }));

  return new Chart(canvas, {
    type: 'line',
    data: { datasets },
    plugins: [decorPlugin({ title, legend, legendCols: 4, legendFont: 12.5, legendCorner: 'tr' })],
    options: {
      responsive: false,
      animation: false,
      devicePixelRatio: 1,
      events: [],
      layout: { padding: { top: pad.top, bottom: pad.bottom, left: 0, right: 22 } },
      plugins: { legend: { display: false }, tooltip: { enabled: false }, title: { display: false } },
      scales: {
        x: xScale(false, 20),
        y: {
          type: 'linear',
          min: 0,
          max: 1.15,
          afterBuildTicks: (scale: any) => {
            scale.ticks = PROB_TICKS.map((v) => ({ value: v }));
          },
          afterFit: (scale: any) => {
            scale.width = AXIS_WIDTH;
          },
          grid: { color: 'rgba(0,0,0,0.1)', lineWidth: 1, drawTicks: true, tickLength: 6, tickColor: '#000', tickWidth: 1.2 },
          border: { display: false },
          ticks: { autoSkip: false, padding: 9, color: '#000', font: { family: FONT, size: 14 }, callback: (v: any) => Number(v).toFixed(2) },
          title: { display: true, text: 'Prob', color: '#000', font: { family: FONT, size: 14 }, padding: { top: 17, bottom: 0 } },
        },
      },
    } as any,
  });
}

function buildCountChart(canvas: HTMLCanvasElement) {
  const RED = '#ff0000';
  const BLUE = '#0000ff';
  const datasets: any[] = [
    { data: toPoints(bandMaravilloLo), borderColor: rgba(RED, 0.16), borderWidth: 1, pointRadius: 0, tension: 0, fill: false, order: 20 },
    { data: toPoints(bandMaravilloHi), borderColor: rgba(RED, 0.16), borderWidth: 1, pointRadius: 0, tension: 0, fill: { target: 0 }, backgroundColor: rgba(RED, 0.14), order: 19 },
    { data: toPoints(bandDiazLo), borderColor: rgba(BLUE, 0.16), borderWidth: 1, pointRadius: 0, tension: 0, fill: false, order: 18 },
    { data: toPoints(bandDiazHi), borderColor: rgba(BLUE, 0.16), borderWidth: 1, pointRadius: 0, tension: 0, fill: { target: 2 }, backgroundColor: rgba(BLUE, 0.13), order: 17 },
    { data: toPoints(truthMaravillo), borderColor: rgba(RED, 0.75), borderWidth: 3, borderJoinStyle: 'round', pointRadius: 0, tension: 0, fill: false, order: 16 },
    { data: toPoints(truthDiaz), borderColor: rgba(BLUE, 0.75), borderWidth: 3, borderJoinStyle: 'round', pointRadius: 0, tension: 0, fill: false, order: 15 },
    { data: toPoints(predMaravillo), borderColor: rgba(RED, 0.6), borderWidth: 2.6, borderDash: [2.6, 4.3], pointRadius: 0, tension: 0, fill: false, order: 14 },
    { data: toPoints(predDiaz), borderColor: rgba(BLUE, 0.6), borderWidth: 2.6, borderDash: [2.6, 4.3], pointRadius: 0, tension: 0, fill: false, order: 13 },
  ];

  const legend: LegendItem[] = [
    { label: `Truth JORGE MARAVILLO: ${truthMaravillo[truthMaravillo.length - 1]}`, color: rgba(RED, 0.75), width: 3 },
    { label: `Truth ELIAS DIAZ: ${truthDiaz[truthDiaz.length - 1]}`, color: rgba(BLUE, 0.75), width: 3 },
    { label: `Predicted JORGE MARAVILLO: ${predMaravillo[R4_START_INDEX]}`, color: rgba(RED, 0.6), width: 2.6, dash: [2.6, 4.3] },
    { label: `Predicted ELIAS DIAZ: ${predDiaz[R4_START_INDEX]}`, color: rgba(BLUE, 0.6), width: 2.6, dash: [2.6, 4.3] },
  ];

  return new Chart(canvas, {
    type: 'line',
    data: { datasets },
    plugins: [decorPlugin({ legend, legendCols: 1, legendFont: 14, legendCorner: 'tl' })],
    options: {
      responsive: false,
      animation: false,
      devicePixelRatio: 1,
      events: [],
      layout: { padding: { top: 16, bottom: 0, left: 0, right: 22 } },
      plugins: { legend: { display: false }, tooltip: { enabled: false }, title: { display: false } },
      scales: {
        x: xScale(true, 82),
        y: {
          type: 'linear',
          min: -2.25,
          max: 47.25,
          afterBuildTicks: (scale: any) => {
            scale.ticks = COUNT_TICKS.map((v) => ({ value: v }));
          },
          afterFit: (scale: any) => {
            scale.width = AXIS_WIDTH;
          },
          grid: {
            color: 'rgba(0,0,0,0.1)',
            lineWidth: 1,
            drawTicks: true,
            tickLength: 6,
            tickWidth: 1.2,
            tickColor: (c: any) => (c.tick && COUNT_TICK_LABELS.includes(c.tick.value) ? '#000' : 'rgba(0,0,0,0)'),
          },
          border: { display: false },
          ticks: {
            autoSkip: false,
            padding: 9,
            color: '#000',
            font: { family: FONT, size: 14 },
            callback: (v: any) => (COUNT_TICK_LABELS.includes(Number(v)) ? String(v) : ''),
          },
          title: { display: true, text: 'Count', color: '#000', font: { family: FONT, size: 15 }, padding: { top: 31, bottom: 0 } },
        },
      },
    } as any,
  });
}

export default function App() {
  const topRef = useRef<HTMLCanvasElement>(null);
  const midRef = useRef<HTMLCanvasElement>(null);
  const botRef = useRef<HTMLCanvasElement>(null);

  useEffect(() => {
    const charts = [
      buildProbChart(topRef.current!, TITLE_MARAVILLO, MARAVILLO_LINES, MARAVILLO_LOWS, { top: 52, bottom: 4 }),
      buildProbChart(midRef.current!, TITLE_DIAZ, DIAZ_LINES, DIAZ_LOWS, { top: 40, bottom: 25 }),
      buildCountChart(botRef.current!),
    ];
    return () => charts.forEach((c) => c.destroy());
  }, []);

  const canvasStyle = (top: number, height: number): React.CSSProperties => ({
    position: 'absolute',
    left: 0,
    top,
    width: 2100,
    height,
    display: 'block',
  });

  return (
    <div style={{ position: 'absolute', left: 0, top: 0, width: 2100, height: 1500, background: '#ffffff', overflow: 'hidden' }}>
      <canvas ref={topRef} width={2100} height={540} style={canvasStyle(0, 540)} />
      <canvas ref={midRef} width={2100} height={550} style={canvasStyle(540, 550)} />
      <canvas ref={botRef} width={2100} height={410} style={canvasStyle(1090, 410)} />
    </div>
  );
}
